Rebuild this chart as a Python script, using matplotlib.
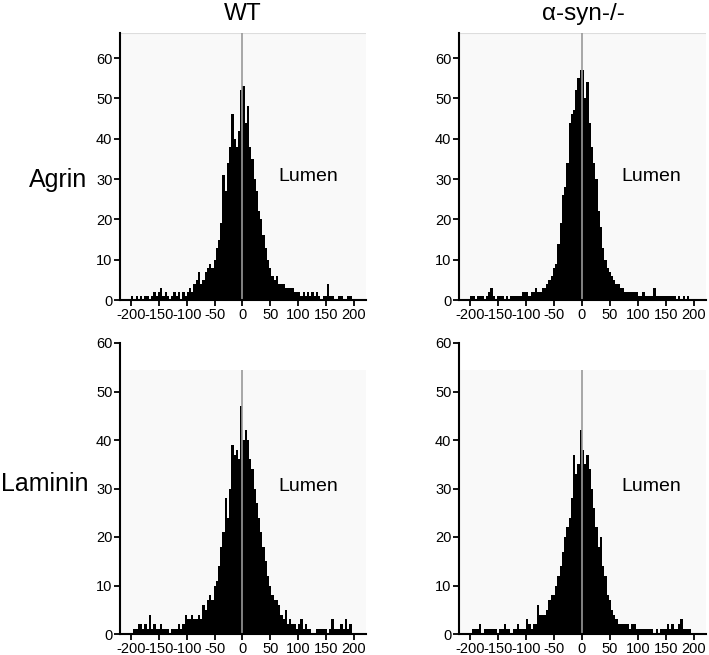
import numpy as np
import matplotlib
matplotlib.use("Agg")
import matplotlib.pyplot as plt
from matplotlib.patches import Rectangle

plt.rcParams['font.family'] = ['Liberation Sans', 'DejaVu Sans']
plt.rcParams['axes.unicode_minus'] = False

# bin centres (bin width 4), -198 ... 198
bin_centers = np.arange(-198, 199, 4)
bin_width = 4

col_titles = ["WT", "\u03b1-syn-/-"]
row_titles = ["Agrin", "Laminin"]
xticks = [-200, -150, -100, -50, 0, 50, 100, 150, 200]
yticks = [0, 10, 20, 30, 40, 50, 60]

wt_agrin = [1, 0, 1, 0, 1, 0, 1, 1, 0, 1,
            2, 1, 2, 3, 1, 2, 1, 0, 1, 2,
            1, 2, 0, 2, 1, 2, 3, 2, 4, 5,
            7, 4, 5, 7, 8, 9, 8, 10, 13, 15,
            19, 31, 27, 34, 38, 46, 40, 38, 42, 52,
            53, 44, 48, 38, 35, 30, 27, 22, 20, 16,
            13, 10, 8, 6, 5, 6, 4, 4, 4, 3,
            3, 3, 3, 2, 2, 2, 1, 2, 1, 2,
            1, 2, 1, 2, 1, 0, 1, 1, 4, 1,
            1, 0, 0, 1, 1, 0, 0, 1, 1, 0]

syn_agrin = [1, 1, 0, 1, 1, 1, 0, 1, 2, 3,
             1, 0, 1, 1, 1, 0, 1, 0, 1, 1,
             1, 1, 1, 2, 2, 2, 1, 2, 2, 3,
             2, 2, 3, 3, 4, 5, 6, 8, 9, 14,
             19, 26, 28, 34, 44, 46, 47, 52, 55, 57,
             57, 50, 54, 44, 38, 34, 30, 22, 18, 13,
             10, 8, 7, 6, 5, 4, 4, 3, 3, 2,
             2, 2, 2, 2, 2, 1, 1, 2, 1, 1,
             1, 1, 3, 1, 1, 1, 1, 1, 1, 1,
             1, 1, 0, 1, 0, 1, 0, 1, 0, 0]

wt_laminin = [0, 1, 1, 2, 2, 1, 2, 1, 4, 1,
              2, 1, 1, 2, 1, 1, 1, 0, 1, 1,
              1, 2, 1, 2, 4, 3, 3, 4, 3, 3,
              4, 3, 6, 5, 7, 8, 7, 10, 11, 14,
              18, 21, 28, 24, 30, 39, 37, 38, 36, 47,
              40, 42, 40, 36, 34, 30, 27, 24, 21, 18,
              15, 12, 10, 8, 7, 7, 6, 4, 3, 5,
              2, 3, 2, 2, 1, 2, 3, 1, 2, 1,
              1, 0, 0, 1, 1, 1, 1, 1, 0, 1,
              3, 1, 1, 1, 2, 1, 3, 1, 2, 0]

syn_laminin = [0, 1, 1, 1, 2, 0, 1, 1, 1, 1,
               1, 1, 0, 1, 1, 2, 1, 1, 0, 1,
               1, 2, 1, 1, 1, 3, 2, 1, 2, 2,
               6, 4, 4, 4, 5, 7, 8, 8, 10, 12,
               14, 17, 20, 22, 24, 28, 37, 33, 35, 42,
               38, 35, 37, 34, 30, 26, 22, 18, 20, 14,
               12, 8, 7, 5, 4, 3, 2, 2, 2, 2,
               2, 1, 2, 2, 1, 1, 1, 1, 1, 1,
               1, 1, 0, 1, 0, 1, 1, 1, 2, 1,
               2, 1, 1, 2, 3, 1, 1, 1, 1, 0]

# height of the single zero-bin spike in each panel
zero_spike = [[66.2, 66.2], [54.5, 54.5]]
panel_ymax = [66.2, 60]
shade_top = [66.2, 54.5]

data = [[wt_agrin, syn_agrin], [wt_laminin, syn_laminin]]

W, H = 709, 655
fig = plt.figure(figsize=(W / 100, H / 100), dpi=100)

lefts = [120 / W, 459 / W]
widths = [246 / W, 247 / W]
bottoms = [1 - 300 / H, 1 - 634 / H]
heights = [(300 - 33) / H, (634 - 343) / H]

for r in range(2):
    for c in range(2):
        ax = fig.add_axes([lefts[c], bottoms[r], widths[c], heights[r]])
        ax.set_facecolor('white')
        ax.add_patch(Rectangle((-220, 0), 442, shade_top[r], facecolor='#f9f9f9',
                               edgecolor='none', zorder=0))
        if r == 0:
            ax.axhline(shade_top[r], color='#dddddd', lw=0.8, zorder=0)
        ax.bar(bin_centers, data[r][c], width=bin_width, color='black',
               linewidth=0, zorder=2)
        ax.vlines(0, 0, zero_spike[r][c], color='#999999', lw=1.2, zorder=3)
        ax.set_xlim(-220, 222)
        ax.set_ylim(0, panel_ymax[r])
        ax.set_xticks(xticks)
        ax.set_xticklabels([str(t) for t in xticks])
        ax.set_yticks(yticks)
        for s in ['top', 'right']:
            ax.spines[s].set_visible(False)
        for s in ['left', 'bottom']:
            ax.spines[s].set_linewidth(1.5)
            ax.spines[s].set_zorder(4)
        ax.tick_params(direction='out', length=4, width=1.3, labelsize=10.5,
                       pad=1.5)
        ax.text(118 if c == 0 else 124, 30.5, "Lumen", fontsize=14,
                ha='center', va='center')

for c in range(2):
    fig.text([243 / W, 583 / W][c], 1 - 14 / H, col_titles[c], fontsize=17.5,
             ha='center', va='center')
fig.text(58 / W, 1 - 180 / H, row_titles[0], fontsize=18, ha='center', va='center')
fig.text(45 / W, 1 - 484 / H, row_titles[1], fontsize=18, ha='center', va='center')

fig.savefig("out.png", dpi=100)
